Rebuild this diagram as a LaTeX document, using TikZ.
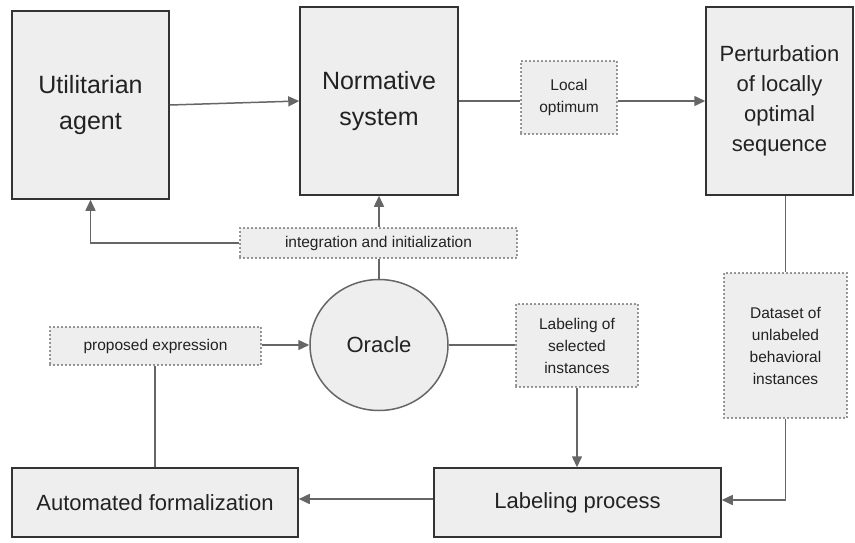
\documentclass[tikz,border=0pt]{standalone}
\usepackage{fontspec}
\setmainfont{Liberation Sans}
\usetikzlibrary{arrows.meta,shapes.geometric}
\definecolor{boxfill}{HTML}{EEEEEE}
\definecolor{boxline}{HTML}{333333}
\definecolor{conline}{HTML}{666666}
\definecolor{dotline}{HTML}{333333}
\definecolor{txt}{HTML}{222222}
\tikzset{
  bigbox/.style={draw=boxline, line width=1.5pt, fill=boxfill, text=txt, inner sep=0pt, align=center, font=\fontsize{25}{36}\selectfont},
  midbox/.style={draw=boxline, line width=1.5pt, fill=boxfill, text=txt, inner sep=0pt, align=center, font=\fontsize{22}{30}\selectfont},
  notebox/.style={draw=dotline, line width=1.9pt, line cap=round, dash pattern=on 0pt off 4pt, fill=boxfill, text=txt, inner sep=0pt, align=center, font=\fontsize{15.5}{22}\selectfont},
  oraclestyle/.style={ellipse, draw=conline, line width=1.5pt, fill=boxfill, text=txt, inner sep=0pt, font=\fontsize{22}{30}\selectfont},
  conn/.style={draw=conline, line width=1.5pt},
  arr/.style={conn, -{Triangle[length=11pt,width=10pt]}}
}
\begin{document}
\begin{tikzpicture}[x=1pt,y=-1pt]
\useasboundingbox (0,0) rectangle (855,542);
\node[bigbox, minimum width=157pt, minimum height=188pt] (util) at (90.5,105) {Utilitarian\\agent};
\node[bigbox, minimum width=158pt, minimum height=188pt] (norm) at (379,101) {Normative\\system};
\node[midbox, minimum width=147pt, minimum height=188pt] (pert) at (779.5,101) {Perturbation\\of locally\\optimal\\sequence};
\node[notebox, minimum width=96pt, minimum height=73pt] (local) at (569,97.5) {Local\\optimum};
\node[notebox, minimum width=277pt, minimum height=30pt] (integ) at (378.5,243) {integration and initialization};
\node[oraclestyle, minimum width=138pt, minimum height=131pt] (oracle) at (379,345) {Oracle};
\node[notebox, minimum width=211pt, minimum height=38pt] (prop) at (155.5,346) {proposed expression};
\node[notebox, minimum width=122pt, minimum height=83pt] (lsel) at (577,345.5) {Labeling of\\selected\\instances};
\node[notebox, minimum width=123pt, minimum height=145pt] (data) at (785.5,345.5) {Dataset of\\unlabeled\\behavioral\\instances};
\node[midbox, minimum width=286pt, minimum height=69pt] (auto) at (155,502.5) {Automated formalization};
\node[midbox, minimum width=287pt, minimum height=69pt] (lproc) at (577.5,502.5) {Labeling process};

\draw[arr] (util.east) -- (norm.west);
\draw[conn] (norm.east) -- (norm.east -| local.west);
\draw[arr] (local.east |- norm.east) -- (norm.east -| pert.west);
\draw[conn] (oracle.north) -- (integ.south -| oracle.north);
\draw[arr] (integ.north -| norm.south) -- (norm.south);
\draw[arr] (integ.west) -| (util.south);
\draw[conn] (data.north |- pert.south) -- (data.north);
\draw[arr] (data.south) |- ([yshift=2.5pt]lproc.east);
\draw[conn] (oracle.east) -- (oracle.east -| lsel.west);
\draw[arr] (lsel.south) -- (lsel.south |- lproc.north);
\draw[arr] ([yshift=3.5pt]lproc.west) -- ([yshift=3.5pt]auto.east);
\draw[conn] (prop.south -| auto.north) -- (auto.north);
\draw[arr] (prop.east |- oracle.west) -- (oracle.west);
\end{tikzpicture}
\end{document}
